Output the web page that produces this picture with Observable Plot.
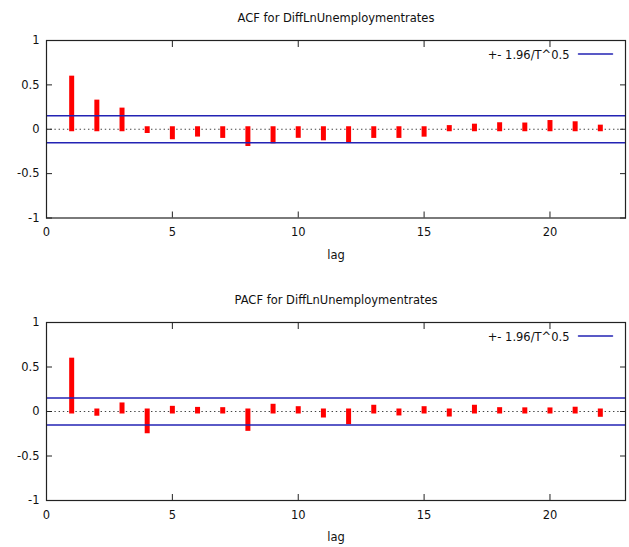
<!DOCTYPE html>
<html>
<head>
<meta charset="utf-8">
<script src="https://cdn.jsdelivr.net/npm/d3@7"></script>
<script src="https://cdn.jsdelivr.net/npm/@observablehq/plot@0.6"></script>
<style>
  html, body { margin: 0; padding: 0; background: #fff; }
  #chart svg { display: block; }
</style>
</head>
<body>
<div id="chart"></div>
<script>
const lags = [1,2,3,4,5,6,7,8,9,10,11,12,13,14,15,16,17,18,19,20,21,22];
const acfValues = [0.57, 0.30, 0.21, -0.02, -0.09, -0.06, -0.075, -0.166, -0.136, -0.074, -0.102, -0.121, -0.075, -0.075, -0.061, 0.013, 0.029, 0.045, 0.042, 0.07, 0.056, 0.018];
const pacfValues = [0.571, -0.025, 0.068, -0.222, 0.03, 0.018, 0.015, -0.195, 0.053, 0.026, -0.045, -0.12, 0.042, -0.022, 0.026, -0.034, 0.042, 0.015, 0.013, 0.012, 0.02, -0.037];
const bandValue = 0.152;
const xTicks = [0, 5, 10, 15, 20];
const yTicks = [-1, -0.5, 0, 0.5, 1];
const titles = ["ACF for DiffLnUnemploymentrates", "PACF for DiffLnUnemploymentrates"];
const legendLabel = "+- 1.96/T^0.5";
const xLabel = "lag";

const BLUE = "#2323b4";
const RED = "#ff0000";
const lineShape = {draw(context, l) { context.moveTo(0, 0); context.lineTo(0, -l); }};

function panel(values, title, height, marginBottom) {
  const data = lags.map((lag, i) => ({lag, value: values[i]}));
  return Plot.plot({
    width: 629,
    height,
    marginLeft: 46,
    marginRight: 4,
    marginTop: 40,
    marginBottom,
    style: {fontFamily: "DejaVu Sans, sans-serif", fontSize: "11.5px", color: "#111", background: "#fff"},
    x: {domain: [0, 23]},
    y: {domain: [-1, 1]},
    marks: [
      Plot.ruleY([0], {stroke: "#444", strokeDasharray: "1.4,2.8", strokeWidth: 1.2}),
      Plot.ruleX(data, {x: "lag", y1: 0, y2: "value", stroke: RED, strokeWidth: 5, strokeLinecap: "square"}),
      Plot.ruleY([bandValue, -bandValue], {stroke: BLUE, strokeWidth: 1.5}),
      Plot.frame({stroke: "#222", strokeWidth: 1.2}),
      Plot.axisX(xTicks, {anchor: "bottom", tickSize: 0, tickPadding: 10, tickFormat: d => String(d), label: null}),
      Plot.axisX(xTicks, {anchor: "bottom", tickSize: -6, tickFormat: () => "", label: null, stroke: "#222"}),
      Plot.axisX(xTicks, {anchor: "top", tickSize: -6, tickFormat: () => "", label: null, stroke: "#222"}),
      Plot.axisY(yTicks, {anchor: "left", tickSize: 0, tickPadding: 7, tickFormat: d => String(d), label: null}),
      Plot.axisY(yTicks, {anchor: "left", tickSize: -6, tickFormat: () => "", label: null, stroke: "#222"}),
      Plot.axisY(yTicks, {anchor: "right", tickSize: -6, tickFormat: () => "", label: null, stroke: "#222"}),
      Plot.text([title], {frameAnchor: "top", lineAnchor: "middle", dy: -22, fill: "#111"}),
      Plot.text([xLabel], {frameAnchor: "bottom", lineAnchor: "middle", dy: 37, fill: "#111"}),
      Plot.text([legendLabel], {frameAnchor: "top-right", lineAnchor: "middle", dx: -56, dy: 15, textAnchor: "end", fill: "#111"}),
      Plot.vector([0], {frameAnchor: "top-right", dx: -13, dy: 13.5, rotate: -90, length: 34, anchor: "start", stroke: BLUE, strokeWidth: 1.5, shape: lineShape})
    ]
  });
}

const root = document.getElementById("chart");
root.appendChild(panel(acfValues, titles[0], 282, 64.5));
root.appendChild(panel(pacfValues, titles[1], 265, 47));
</script>
</body>
</html>
